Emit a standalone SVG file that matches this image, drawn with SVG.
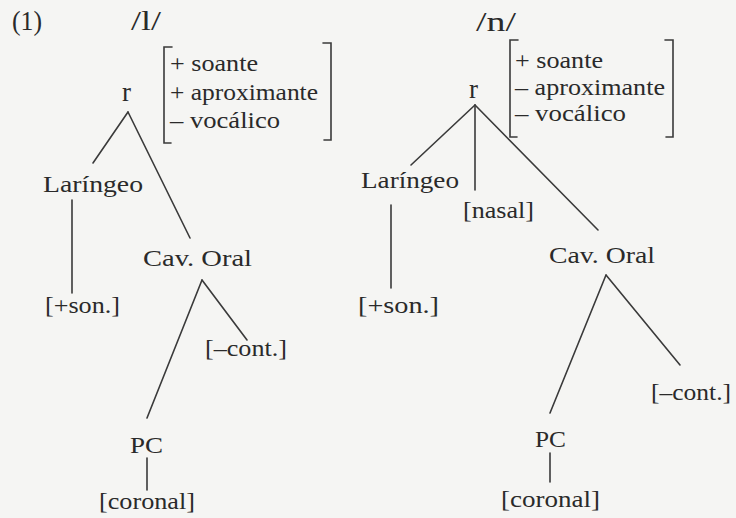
<svg xmlns="http://www.w3.org/2000/svg" width="736" height="518" viewBox="0 0 736 518">
<style>
text{font-family:"Liberation Serif","Times New Roman",serif;font-size:24px;fill:#2a2a2a}
.f{font-size:23px}
.big{font-size:27px}
.c line,.br{stroke:#3a3a3a;stroke-width:1.6;fill:none;stroke-linecap:round}
</style>
<rect width="736" height="518" fill="#f5f5f3"/>
<g id="label-1"><text class="big" x="12" y="30" textLength="30" lengthAdjust="spacingAndGlyphs">(1)</text></g>
<g id="title-l"><text class="big" x="131" y="30" textLength="30" lengthAdjust="spacingAndGlyphs">/l/</text></g>
<g id="title-n"><text class="big" x="476" y="31" textLength="40" lengthAdjust="spacingAndGlyphs">/n/</text></g>
<g id="features-l">
<path class="br" d="M172 47 H164 V143 H171"/>
<path class="br" d="M323 43 H331 V140 H324"/>
<text class="f" x="170" y="71" textLength="88" lengthAdjust="spacingAndGlyphs">+ soante</text>
<text class="f" x="170" y="100" textLength="148" lengthAdjust="spacingAndGlyphs">+ aproximante</text>
<text class="f" x="170" y="128" textLength="110" lengthAdjust="spacingAndGlyphs">– vocálico</text>
</g>
<g id="features-n">
<path class="br" d="M518 40 H510 V137 H517"/>
<path class="br" d="M665 40 H673 V137 H666"/>
<text class="f" x="515" y="68" textLength="88" lengthAdjust="spacingAndGlyphs">+ soante</text>
<text class="f" x="515" y="95" textLength="150" lengthAdjust="spacingAndGlyphs">– aproximante</text>
<text class="f" x="515" y="121" textLength="111" lengthAdjust="spacingAndGlyphs">– vocálico</text>
</g>
<g id="r-l"><text class="big" x="122" y="101">r</text></g>
<g id="laringeo-l"><text x="43" y="192" textLength="100" lengthAdjust="spacingAndGlyphs">Laríngeo</text></g>
<g id="cavoral-l"><text x="143" y="266" textLength="109" lengthAdjust="spacingAndGlyphs">Cav. Oral</text></g>
<g id="son-l"><text x="45" y="313" textLength="75" lengthAdjust="spacingAndGlyphs">[+son.]</text></g>
<g id="cont-l"><text x="205" y="356" textLength="82" lengthAdjust="spacingAndGlyphs">[–cont.]</text></g>
<g id="pc-l"><text x="130" y="453" textLength="33" lengthAdjust="spacingAndGlyphs">PC</text></g>
<g id="coronal-l"><text x="99" y="509" textLength="96" lengthAdjust="spacingAndGlyphs">[coronal]</text></g>
<g id="r-n"><text class="big" x="469" y="98">r</text></g>
<g id="laringeo-n"><text x="361" y="188" textLength="98" lengthAdjust="spacingAndGlyphs">Laríngeo</text></g>
<g id="nasal-n"><text x="463" y="218" textLength="71" lengthAdjust="spacingAndGlyphs">[nasal]</text></g>
<g id="cavoral-n"><text x="549" y="263" textLength="106" lengthAdjust="spacingAndGlyphs">Cav. Oral</text></g>
<g id="son-n"><text x="358" y="313" textLength="81" lengthAdjust="spacingAndGlyphs">[+son.]</text></g>
<g id="cont-n"><text x="651" y="400" textLength="80" lengthAdjust="spacingAndGlyphs">[–cont.]</text></g>
<g id="pc-n"><text x="535" y="447" textLength="31" lengthAdjust="spacingAndGlyphs">PC</text></g>
<g id="coronal-n"><text x="501" y="507" textLength="99" lengthAdjust="spacingAndGlyphs">[coronal]</text></g>
<g id="connectors" class="c">
<line x1="128" y1="112" x2="93" y2="163"/>
<line x1="128" y1="112" x2="190" y2="238"/>
<line x1="72" y1="200" x2="72" y2="293"/>
<line x1="202" y1="280" x2="147" y2="418"/>
<line x1="202" y1="280" x2="247" y2="340"/>
<line x1="147" y1="458" x2="147" y2="490"/>
<line x1="475" y1="105" x2="411" y2="165"/>
<line x1="475" y1="105" x2="475" y2="190"/>
<line x1="475" y1="105" x2="598" y2="230"/>
<line x1="391" y1="205" x2="391" y2="288"/>
<line x1="606" y1="275" x2="550" y2="413"/>
<line x1="606" y1="275" x2="680" y2="365"/>
<line x1="550" y1="453" x2="550" y2="482"/>
</g>
</svg>
